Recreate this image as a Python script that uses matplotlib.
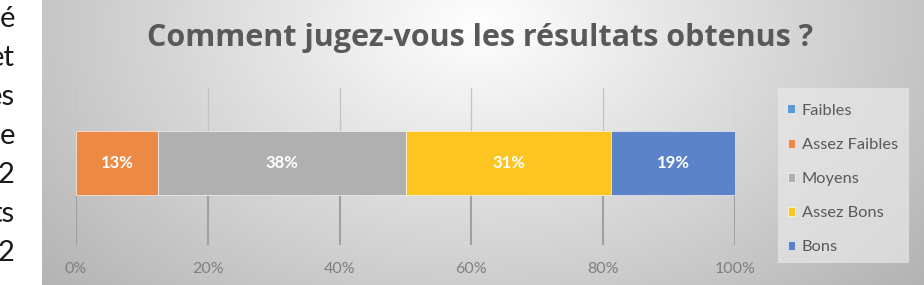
import numpy as np
import matplotlib
matplotlib.use("Agg")
from matplotlib import pyplot as plt
from matplotlib.patches import Rectangle

categories = ["Faibles", "Assez Faibles", "Moyens", "Assez Bons", "Bons"]
percents = [0.0, 12.5, 37.5, 31.25, 18.75]
colors = ["#5b9bd5", "#ec8a45", "#b0b0b0", "#fcc522", "#5b83c9"]
ticks = [0, 20, 40, 60, 80, 100]
side_text = ["é", "et", "es", "e", "2", "ts", "2"]

W, H = 924, 285
fig = plt.figure(figsize=(W / 100, H / 100), dpi=100)
fig.patch.set_facecolor("white")

# gradient background of the chart panel (starts at x=42)
bg = fig.add_axes([42 / W, 0, 1 - 42 / W, 1])
xx, yy = np.meshgrid(np.linspace(42, W, 400), np.linspace(0, H, 150))
d = np.sqrt(((xx - 480) / 470) ** 2 + ((yy - 25) / 320) ** 2)
v = np.clip(1.0 - 0.24 * d, 0, 1)
bg.imshow(np.dstack([v, v, v]), aspect="auto", extent=[0, 1, 0, 1])
bg.set_axis_off()

# left page text fragments (cut off by the screenshot)
for i, t in enumerate(side_text):
    fig.text(15 / W, 1 - (27 + i * 39) / H, t, ha="right", va="baseline",
             fontsize=21, family="Lato", color="#1a1a1a")

fig.text(480 / W, 1 - 46 / H, "Comment jugez-vous les résultats obtenus ?",
         ha="center", va="baseline", fontsize=22, family="Open Sans",
         fontweight="bold", color="#595959")

ax = fig.add_axes([76 / W, 1 - 245 / H, 659 / W, 157 / H])
ax.set_facecolor("none")
ax.set_xlim(0, 100)
ax.set_ylim(0, 1)
for t in ticks:
    ax.axvline(t, 0, 0.32, color="#a0a0a0", lw=1.5, zorder=0)
    ax.axvline(t, 0.32, 1, color="#c4c4c4", lw=1.0, zorder=0)

left = 0
for cat, p, c in zip(categories, percents, colors):
    ax.barh(0.522, p, left=left, height=0.408, color=c, label=cat, zorder=2,
            edgecolor="white", linewidth=0.4 if p > 0 else 0)
    if p > 0:
        ax.text(left + p / 2, 0.522, f"{int(p + 0.5)}%", ha="center",
                va="center", color="white", fontsize=12, fontweight="bold",
                family="Lato", zorder=3)
    left += p

ax.set_xticks(ticks)
ax.set_xticklabels([f"{t}%" for t in ticks], family="Lato", fontsize=11.5,
                   color="#7f7f7f")
ax.tick_params(axis="x", length=0, pad=12)
ax.set_yticks([])
for s in ax.spines.values():
    s.set_visible(False)

# legend box drawn separately so its padding can differ from the legend's
fig.patches.append(Rectangle((778 / W, 1 - 262 / H), 130 / W, 174 / H,
                             transform=fig.transFigure, facecolor="#e8e8e8",
                             edgecolor="#e4e4e4", alpha=0.7, lw=0.8))
leg = fig.legend(loc="upper left", bbox_to_anchor=(778 / W, 1 - 94 / H),
                 borderaxespad=0, frameon=False, handlelength=0.45,
                 handleheight=0.45, handletextpad=0.4, labelspacing=1.23,
                 borderpad=0.6, prop={"family": "Lato", "size": 11.8})
for txt in leg.get_texts():
    txt.set_color("#595959")

fig.savefig("out.png", dpi=100)
